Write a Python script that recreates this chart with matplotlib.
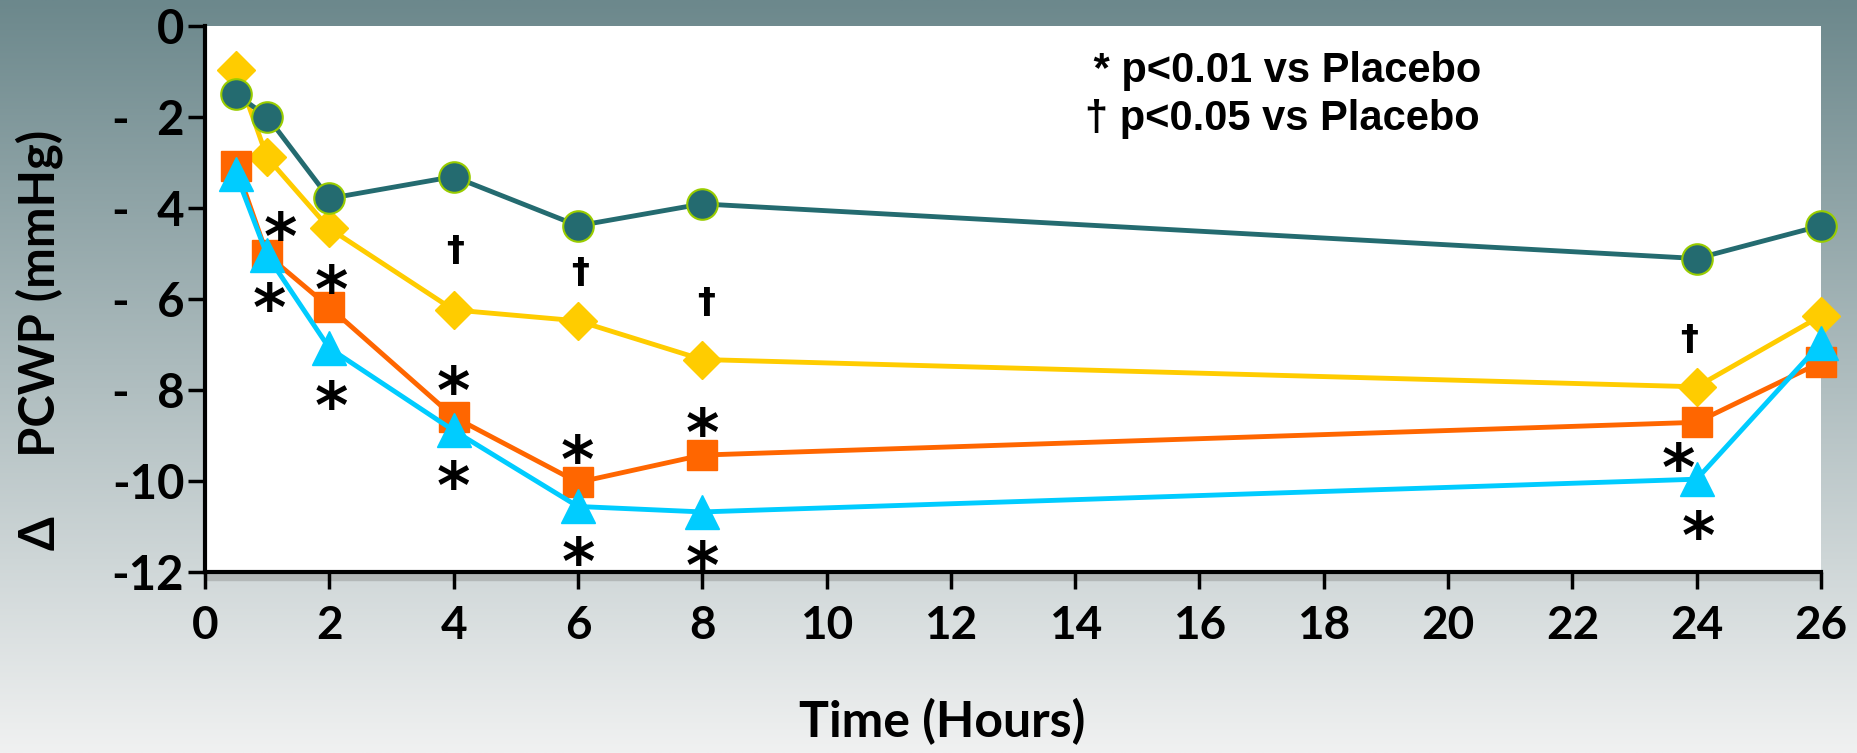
import numpy as np
import matplotlib
matplotlib.use('Agg')
import matplotlib.pyplot as plt
from matplotlib.patches import Rectangle

# ---------------- data ----------------
hours = [0.5, 1, 2, 4, 6, 8, 24, 26]
placebo = [-1.50, -1.99, -3.79, -3.31, -4.39, -3.91, -5.11, -4.39]
dose_low = [-0.97, -2.89, -4.45, -6.24, -6.48, -7.33, -7.93, -6.37]
dose_mid = [-3.08, -5.03, -6.18, -8.59, -10.03, -9.43, -8.71, -7.39]
dose_high = [-3.25, -5.04, -7.08, -8.89, -10.56, -10.68, -9.96, -6.97]

x_ticks = list(range(0, 27, 2))
y_ticks = [0, -2, -4, -6, -8, -10, -12]
y_tick_labels = ["0", "-\u20072", "-\u20074", "-\u20076", "-\u20078", "-10", "-12"]

star_x = [1.21, 1.03, 2.03, 2.03, 4.0, 4.0, 5.99, 6.0, 8.0, 8.0, 23.71, 24.02]
star_y = [-4.34, -5.91, -5.51, -8.07, -7.74, -9.83, -9.25, -11.49, -8.66, -11.57, -9.43, -10.93]
dagger_x = [4.02, 6.03, 8.06, 23.88]
dagger_y = [-4.92, -5.40, -6.06, -6.89]

note_text = " * p<0.01 vs Placebo\n\u2020 p<0.05 vs Placebo"
x_label = "Time (Hours)"
y_label = "\u0394     PCWP (mmHg)"

# ---------------- style ----------------
plt.rcParams['font.family'] = ['Lato', 'DejaVu Sans']
plt.rcParams['font.weight'] = 'bold'

W, H = 1858, 753
fig = plt.figure(figsize=(W / 100, H / 100), dpi=100)

# background gradient
bg = fig.add_axes([0, 0, 1, 1], zorder=-10)
top = np.array([108, 136, 140]) / 255
bot = np.array([240, 241, 241]) / 255
t = np.linspace(0, 1, 256)[:, None, None]
grad = top * (1 - t) + bot * t
grad = np.repeat(grad, 4, axis=1)
bg.imshow(grad, aspect='auto', extent=[0, 1, 0, 1], origin='upper')
bg.set_axis_off()

# shadow under x-axis
fig.patches.append(Rectangle((207 / W, 1 - 580 / H), (1821 - 207) / W, 6 / H,
                             transform=fig.transFigure, color='#b3b8b8', zorder=-1))

left, right, ytop, ybot = 205, 1821, 26, 572
ax = fig.add_axes([left / W, 1 - ybot / H, (right - left) / W, (ybot - ytop) / H])
ax.set_facecolor('white')
ax.set_xlim(0, 26)
ax.set_ylim(-12, 0)

for s in ['top', 'right']:
    ax.spines[s].set_visible(False)
for s in ['left', 'bottom']:
    ax.spines[s].set_linewidth(3)
    ax.spines[s].set_color('black')

ax.set_xticks(x_ticks)
ax.set_xticklabels([str(v) for v in x_ticks])
ax.set_yticks(y_ticks)
ax.set_yticklabels(y_tick_labels)
ax.tick_params(axis='both', direction='out', length=12, width=2.5, colors='black')
ax.tick_params(axis='y', pad=3, labelsize=34)
ax.tick_params(axis='x', pad=12, labelsize=33)

lw = 3.5
ax.plot(hours, dose_low, color='#ffcc00', lw=lw, marker='D', ms=19,
        mfc='#ffcc00', mec='#ffcc00', mew=1, zorder=3, clip_on=False)
ax.plot(hours, dose_mid, color='#ff6600', lw=lw, marker='s', ms=22,
        mfc='#ff6600', mec='#ff6600', mew=1, zorder=4, clip_on=False)
ax.plot(hours, dose_high, color='#00ccff', lw=lw, marker='^', ms=25,
        mfc='#00ccff', mec='#00ccff', mew=1, zorder=5, clip_on=False)
ax.plot(hours, placebo, color='#246b70', lw=lw, marker='o', ms=22,
        mfc='#246b70', mec='#99cc00', mew=1.5, zorder=6, clip_on=False)

star_fs = 46
for x, y in zip(star_x, star_y):
    ax.annotate("*", (x, y), xytext=(0, -0.55 * star_fs), textcoords='offset points',
                ha='center', va='baseline', fontsize=star_fs, fontweight='heavy',
                family='DejaVu Sans', color='black', zorder=7)
dag_fs = 26
for x, y in zip(dagger_x, dagger_y):
    ax.annotate("\u2020", (x, y), xytext=(0, -0.30 * dag_fs), textcoords='offset points',
                ha='center', va='baseline', fontsize=dag_fs, fontweight='bold',
                family='DejaVu Sans', color='black', zorder=7)

ax.text(1282 / W, 1 - 95 / H, note_text, transform=fig.transFigure, ha='center',
        va='center', fontsize=30, fontweight='bold', family='Liberation Sans',
        linespacing=1.25, color='black')

fig.text(942 / W, 1 - 722 / H, x_label, ha='center', va='center', fontsize=36,
         fontweight='bold')
fig.text(39 / W, 1 - 340 / H, y_label, ha='center', va='center', fontsize=35,
         fontweight='bold', rotation=90)

fig.savefig('out.png', dpi=100)
